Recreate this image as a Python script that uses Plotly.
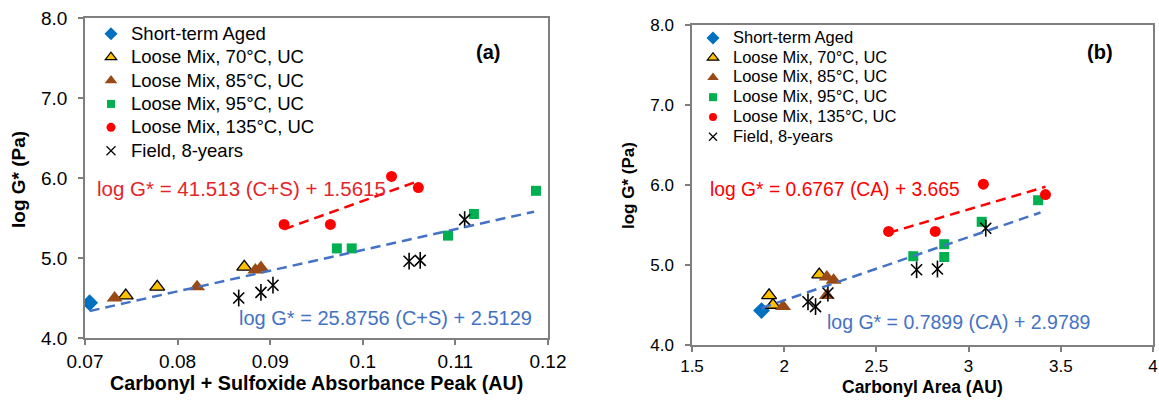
import plotly.graph_objects as go

# ---------------- panel (a): carbonyl + sulfoxide absorbance peak ----------------
short_cs = [0.0705]
short_cs_g = [4.44]
lm70_cs = [0.0744, 0.0778, 0.0872]
lm70_cs_g = [4.53, 4.64, 4.89]
lm85_cs = [0.0732, 0.0821, 0.0884, 0.0890]
lm85_cs_g = [4.50, 4.64, 4.85, 4.88]
lm95_cs = [0.0972, 0.0988, 0.1092, 0.1120, 0.1187]
lm95_cs_g = [5.12, 5.12, 5.28, 5.55, 5.84]
lm135_cs = [0.0915, 0.0965, 0.1031, 0.1060]
lm135_cs_g = [5.42, 5.42, 6.02, 5.88]
field_cs = [0.0866, 0.0890, 0.0903, 0.1050, 0.1062, 0.1110]
field_cs_g = [4.50, 4.57, 4.66, 4.96, 4.97, 5.48]

# linear fits (slope, intercept) and the x-span each fit line covers
fit_cs_lab = (41.513, 1.5615)
fit_cs_lab_span = [0.0915, 0.1060]
fit_cs_all = (25.8756, 2.5129)
fit_cs_all_span = [0.0705, 0.1185]

# ---------------- panel (b): carbonyl area ----------------
short_ca = [1.877]
short_ca_g = [4.43]
lm70_ca = [1.918, 1.939, 2.190]
lm70_ca_g = [4.62, 4.50, 4.88]
lm85_ca = [1.994, 2.231, 2.231, 2.268]
lm85_ca_g = [4.48, 4.62, 4.85, 4.81]
lm95_ca = [2.700, 2.868, 2.868, 3.071, 3.377]
lm95_ca_g = [5.11, 5.26, 5.10, 5.54, 5.81]
lm135_ca = [2.566, 2.819, 3.080, 3.417]
lm135_ca_g = [5.42, 5.42, 6.01, 5.88]
field_ca = [2.129, 2.170, 2.237, 2.718, 2.831, 3.093]
field_ca_g = [4.54, 4.48, 4.65, 4.94, 4.95, 5.46]

fit_ca_lab = (0.6767, 3.665)
fit_ca_lab_span = [2.566, 3.417]
fit_ca_all = (0.7899, 2.9789)
fit_ca_all_span = [1.877, 3.390]

# ---------------- axis ticks ----------------
y_ticks = [4.0, 5.0, 6.0, 7.0, 8.0]
y_ticktext = ["4.0", "5.0", "6.0", "7.0", "8.0"]
x_cs_ticks = [0.07, 0.08, 0.09, 0.10, 0.11, 0.12]
x_cs_ticktext = ["0.07", "0.08", "0.09", "0.1", "0.11", "0.12"]
x_ca_ticks = [1.5, 2.0, 2.5, 3.0, 3.5, 4.0]
x_ca_ticktext = ["1.5", "2", "2.5", "3", "3.5", "4"]

series_names = ["Short-term Aged", "Loose Mix, 70°C, UC", "Loose Mix, 85°C, UC",
                "Loose Mix, 95°C, UC", "Loose Mix, 135°C, UC", "Field, 8-years"]

FONT = "Liberation Sans, Arial, sans-serif"
BLUE_PT = "#0070C0"
YELLOW = "#FFC000"
BROWN = "#9A4A16"
GREEN = "#00B050"
RED = "#FF0000"
FIT_BLUE = "#4472C4"
AXIS_GRAY = "#7F7F7F"
BLACK = "#000000"

W, H = 1159, 409


def px_dom_x(a, b):
    return [a / W, b / W]


def px_dom_y(top, bottom):
    return [1 - bottom / H, 1 - top / H]


def fit_line(coef, span):
    m, c = coef
    return span, [m * x + c for x in span]


# marker styles per series: (symbol, size, fill, outline width, outline colour)
styles = [
    ("diamond", 13, BLUE_PT, 0, BLUE_PT),
    ("triangle-up", 13, YELLOW, 1.3, BLACK),
    ("triangle-up", 14, BROWN, 0, BROWN),
    ("square", 10, GREEN, 0, GREEN),
    ("circle", 11, RED, 0, RED),
    ("x-thin-open", 11, BLACK, 1.6, BLACK),
]

fig = go.Figure()


def add_panel(xa, ya, legend, data, fits, key_scale, label_px):
    for (xs, ys), (sym, size, fill, lw, lc), name in zip(data, styles, series_names):
        fig.add_trace(go.Scatter(
            x=xs, y=ys, xaxis=xa, yaxis=ya, mode="markers", name=name,
            showlegend=False,
            marker=dict(symbol=sym, size=size, color=fill, line=dict(width=lw, color=lc))))
        # legend key (smaller glyph than the plotted marker)
        fig.add_trace(go.Scatter(
            x=[None], y=[None], xaxis=xa, yaxis=ya, mode="markers",
            name="<span style='font-size:%gpx'>%s</span>" % (label_px, name),
            legend=legend, hoverinfo="skip",
            marker=dict(symbol=sym, size=round(size * key_scale), color=fill,
                        line=dict(width=min(lw, 1.2), color=lc))))
    # vertical stroke completing the field-sample star marker
    xf, yf = data[5]
    fig.add_trace(go.Scatter(x=xf, y=yf, xaxis=xa, yaxis=ya, mode="markers",
                             showlegend=False, hoverinfo="skip",
                             marker=dict(symbol="line-ns-open", size=12, color=BLACK,
                                         line=dict(width=1.6, color=BLACK))))
    for (coef, span), col in zip(fits, [RED, FIT_BLUE]):
        lx, ly = fit_line(coef, span)
        fig.add_trace(go.Scatter(x=lx, y=ly, xaxis=xa, yaxis=ya, mode="lines",
                                 showlegend=False, hoverinfo="skip",
                                 line=dict(color=col, width=2.5, dash="10px,6px")))


add_panel("x", "y", "legend",
          [(short_cs, short_cs_g), (lm70_cs, lm70_cs_g), (lm85_cs, lm85_cs_g),
           (lm95_cs, lm95_cs_g), (lm135_cs, lm135_cs_g), (field_cs, field_cs_g)],
          [(fit_cs_lab, fit_cs_lab_span), (fit_cs_all, fit_cs_all_span)], 0.8, 18.5)
add_panel("x2", "y2", "legend2",
          [(short_ca, short_ca_g), (lm70_ca, lm70_ca_g), (lm85_ca, lm85_ca_g),
           (lm95_ca, lm95_ca_g), (lm135_ca, lm135_ca_g), (field_ca, field_ca_g)],
          [(fit_ca_lab, fit_ca_lab_span), (fit_ca_all, fit_ca_all_span)], 0.75, 16.5)


def axis_style(fs, standoff):
    return dict(showline=True, linecolor=AXIS_GRAY, linewidth=1.5, mirror=True,
                ticks="outside", ticklen=5, tickwidth=1.5, tickcolor=AXIS_GRAY,
                showgrid=False, zeroline=False, automargin=False,
                ticklabelstandoff=standoff,
                tickfont=dict(family=FONT, size=fs, color=BLACK))


fig.update_layout(
    width=W, height=H,
    margin=dict(l=0, r=0, t=0, b=0),
    paper_bgcolor="white", plot_bgcolor="white",
    font=dict(family=FONT, color=BLACK),
    xaxis=dict(domain=px_dom_x(85, 548), range=[0.07, 0.12], anchor="y",
               tickvals=x_cs_ticks, ticktext=x_cs_ticktext, **axis_style(19, 0)),
    yaxis=dict(domain=px_dom_y(18, 338), range=[4.0, 8.0], anchor="x",
               tickvals=y_ticks, ticktext=y_ticktext, **axis_style(19, 7)),
    xaxis2=dict(domain=px_dom_x(692, 1153), range=[1.5, 4.0], anchor="y2",
                tickvals=x_ca_ticks, ticktext=x_ca_ticktext, **axis_style(17, 0)),
    yaxis2=dict(domain=px_dom_y(25, 345), range=[4.0, 8.0], anchor="x2",
                tickvals=y_ticks, ticktext=y_ticktext, **axis_style(17, 8)),
    legend=dict(x=91 / W, y=1 - 17 / H, xanchor="left", yanchor="top",
                bgcolor="rgba(0,0,0,0)", font=dict(family=FONT, size=15.7),
                itemsizing="trace", tracegroupgap=0),
    legend2=dict(x=693 / W, y=1 - 23 / H, xanchor="left", yanchor="top",
                 bgcolor="rgba(0,0,0,0)", font=dict(family=FONT, size=12.9),
                 itemsizing="trace", tracegroupgap=0),
    showlegend=True,
)


def paper_text(text, x, y, size, angle=0):
    return dict(text=text, x=x / W, y=1 - y / H, xref="paper", yref="paper",
                xanchor="center", yanchor="middle", textangle=angle,
                showarrow=False, font=dict(size=size, color=BLACK))


annotations = [
    # panel tags
    paper_text("<b>(a)</b>", 488, 52, 20),
    paper_text("<b>(b)</b>", 1100, 52, 20),
    # axis titles
    paper_text("<b>Carbonyl + Sulfoxide Absorbance Peak (AU)</b>", 316, 383, 19.7),
    paper_text("<b>Carbonyl Area (AU)</b>", 922, 387, 17.5),
    paper_text("<b>log G* (Pa)</b>", 18, 180, 19, -90),
    paper_text("<b>log G* (Pa)</b>", 628, 186, 17, -90),
    # fit equations
    dict(text="log G* = %.3f (C+S) + %.4f" % fit_cs_lab, x=0.07108, y=5.875,
         xref="x", yref="y", xanchor="left", yanchor="middle", showarrow=False,
         font=dict(size=20.5, color="#E3262B")),
    dict(text="log G* = %.4f (C+S) + %.4f" % fit_cs_all, x=0.08641, y=4.25,
         xref="x", yref="y", xanchor="left", yanchor="middle", showarrow=False,
         font=dict(size=20, color=FIT_BLUE)),
    dict(text="log G* = %.4f (CA) + %.3f" % fit_ca_lab, x=2.273, y=5.95,
         xref="x2", yref="y2", xanchor="center", yanchor="middle", showarrow=False,
         font=dict(size=19.3, color=RED)),
    dict(text="log G* = %.4f (CA) + %.4f" % fit_ca_all, x=2.943, y=4.29,
         xref="x2", yref="y2", xanchor="center", yanchor="middle", showarrow=False,
         font=dict(size=19.5, color=FIT_BLUE)),
]
fig.update_layout(annotations=annotations)

fig.write_html("out.html")
